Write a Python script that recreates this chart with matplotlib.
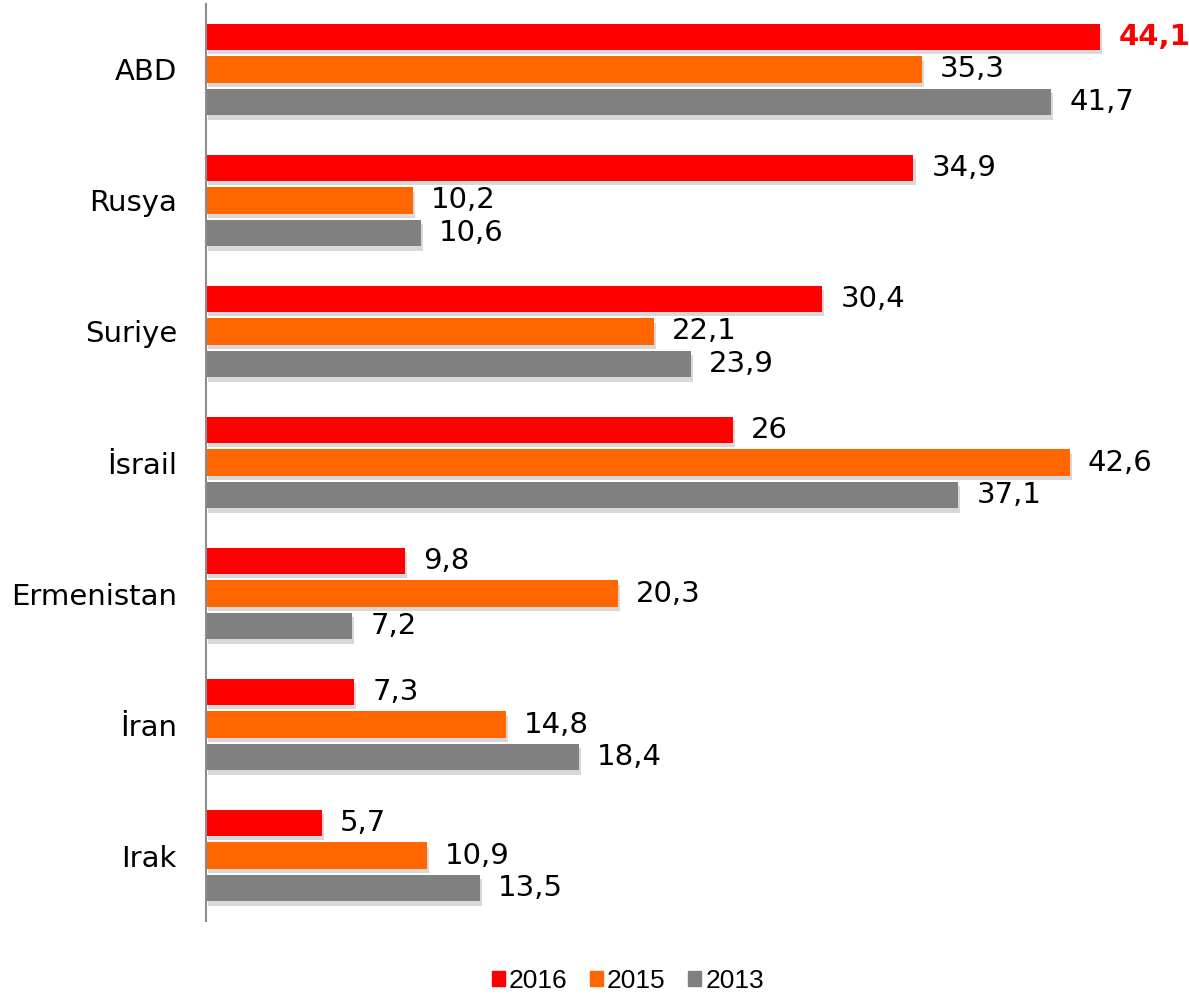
import numpy as np
import matplotlib.pyplot as plt
import matplotlib.patheffects as pe
from matplotlib.patches import Patch

countries = ["ABD", "Rusya", "Suriye", "İsrail", "Ermenistan", "İran", "Irak"]
v2016 = [44.1, 34.9, 30.4, 26, 9.8, 7.3, 5.7]
v2015 = [35.3, 10.2, 22.1, 42.6, 20.3, 14.8, 10.9]
v2013 = [41.7, 10.6, 23.9, 37.1, 7.2, 18.4, 13.5]
years = ["2016", "2015", "2013"]
colors = ["#FF0000", "#FF6600", "#808080"]

def fmt(v):
    s = ("%.1f" % v).replace(".", ",")
    return s[:-2] if s.endswith(",0") else s

fig = plt.figure(figsize=(11.89, 9.94), dpi=100)
ax = fig.add_axes([0.1733, 0.0734, 0.8183, 0.9226])

y = np.arange(len(countries))
h = 0.2
step = 0.25
shadow = [pe.SimplePatchShadow(offset=(1.5, -3), shadow_rgbFace="#aaaaaa", alpha=0.45), pe.Normal()]

for k, (vals, c) in enumerate(zip([v2016, v2015, v2013], colors)):
    pos = y + (k - 1) * step
    bars = ax.barh(pos, vals, height=h, color=c, zorder=2)
    for b in bars:
        b.set_path_effects(shadow)
    for p, v in zip(pos, vals):
        if k == 0 and v == max(v2016):
            ax.text(v + 0.9, p, fmt(v), va="center", ha="left", fontsize=21,
                    color="#FF0000", fontweight="bold")
        else:
            ax.text(v + 0.9, p, fmt(v), va="center", ha="left", fontsize=21, color="black")

ax.set_ylim(len(countries) - 0.5, -0.5)
ax.set_xlim(0, 48)
ax.set_yticks(y)
ax.set_yticklabels(countries, fontsize=21)
ax.tick_params(axis="y", length=0, pad=21)
ax.set_xticks([])
for s in ["top", "right", "bottom"]:
    ax.spines[s].set_visible(False)
ax.spines["left"].set_color("#8c8c8c")
ax.spines["left"].set_linewidth(1.5)

handles = [Patch(color=c, label=l) for c, l in zip(colors, years)]
fig.legend(handles=handles, loc="center", bbox_to_anchor=(0.528, 0.013), ncol=3, frameon=False,
           prop={"family": "Liberation Sans", "size": 19}, handlelength=0.5,
           handleheight=0.5, handletextpad=0.15, columnspacing=0.85)

plt.savefig("out.png", dpi=100)
